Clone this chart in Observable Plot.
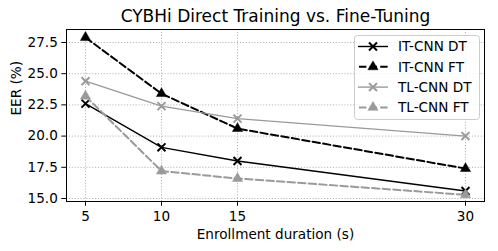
<!DOCTYPE html>
<html><head><meta charset="utf-8">
<script src="https://cdn.jsdelivr.net/npm/d3@7"></script>
<script src="https://cdn.jsdelivr.net/npm/@observablehq/plot@0.6"></script>
<style>html,body{margin:0;padding:0;background:#fff} svg{display:block}</style>
</head><body><div id="chart"></div>
<script>
// ---- data ----
const durations = [5, 10, 15, 30];
const itCnnDt = [22.6, 19.1, 18.0, 15.6];
const itCnnFt = [27.9, 23.4, 20.6, 17.4];
const tlCnnDt = [24.4, 22.4, 21.4, 20.0];
const tlCnnFt = [23.2, 17.2, 16.6, 15.3];
const seriesNames = ["IT-CNN DT", "IT-CNN FT", "TL-CNN DT", "TL-CNN FT"];
const xTicks = [5, 10, 15, 30];
const yTicks = [15, 17.5, 20, 22.5, 25, 27.5];
const titleText = "CYBHi Direct Training vs. Fine-Tuning";
const xLabel = "Enrollment duration (s)";
const yLabel = "EER (%)";

// ---- styles ----
const seriesValues = [itCnnDt, itCnnFt, tlCnnDt, tlCnnFt];
const styles = [
  {color: "#000000", dash: null, width: 1.4, symbol: "times", r: 3.7},
  {color: "#000000", dash: "7.4,3.2", width: 2, symbol: "triangle", r: 3.8},
  {color: "#9a9a9a", dash: null, width: 1.4, symbol: "times", r: 3.7},
  {color: "#9a9a9a", dash: "7.4,3.2", width: 2, symbol: "triangle", r: 3.8}
];

const table = [];
seriesNames.forEach((name, s) => {
  durations.forEach((d, i) => table.push({series: name, duration: d, eer: seriesValues[s][i]}));
});

const W = 498, H = 251;
const mL = 66, mR = 14, mT = 29, mB = 50;
const fs = 13.6;

const marks = [
  Plot.gridX(xTicks, {stroke: "#b0b0b0", strokeOpacity: 1, strokeWidth: 1, strokeDasharray: "1.1,1.8"}),
  Plot.gridY(yTicks, {stroke: "#b0b0b0", strokeOpacity: 1, strokeWidth: 1, strokeDasharray: "1.1,1.8"}),
  Plot.axisX(xTicks, {tickSize: 4.7, tickPadding: 5.5, label: null, fontSize: fs}),
  Plot.axisY(yTicks, {tickSize: 4.7, tickPadding: 4, tickFormat: d3.format(".1f"), label: null, fontSize: fs})
];
seriesNames.forEach((name, s) => {
  const st = styles[s];
  const rows = table.filter(d => d.series === name);
  marks.push(Plot.line(rows, {x: "duration", y: "eer", stroke: st.color, strokeWidth: st.width, strokeDasharray: st.dash}));
  if (st.symbol === "times") {
    marks.push(Plot.dot(rows, {x: "duration", y: "eer", symbol: "times", r: st.r, stroke: st.color, strokeWidth: 2}));
  } else {
    marks.push(Plot.dot(rows, {x: "duration", y: "eer", symbol: "triangle", r: st.r, fill: st.color, stroke: st.color, strokeWidth: 0.5}));
  }
});
marks.push(Plot.frame({stroke: "#000", strokeWidth: 1}));
marks.push(Plot.text([titleText], {frameAnchor: "top", lineAnchor: "middle", dy: -12.5, fontSize: 17}));
marks.push(Plot.text([xLabel], {frameAnchor: "bottom", lineAnchor: "middle", dy: 33, fontSize: fs}));
marks.push(Plot.text([yLabel], {frameAnchor: "left", lineAnchor: "middle", dx: -50, rotate: -90, fontSize: fs}));

const svg = Plot.plot({
  width: W, height: H,
  marginLeft: mL, marginRight: mR, marginTop: mT, marginBottom: mB,
  x: {domain: [3.75, 31.25]},
  y: {domain: [14.76, 28.54]},
  style: {fontFamily: "DejaVu Sans", fontSize: fs + "px", color: "#000", background: "#fff"},
  marks
});

// ---- legend (inside the frame, upper right) ----
const frameRight = W - mR, frameTop = mT;
const lgW = 125, lgH = 84;
const lgX = frameRight - 5 - lgW, lgY = frameTop + 6;
const lg = d3.select(svg).append("g")
  .attr("font-family", "DejaVu Sans").attr("font-size", fs).attr("text-anchor", "start");
lg.append("rect").attr("x", lgX + 0.5).attr("y", lgY + 0.5).attr("width", lgW).attr("height", lgH)
  .attr("rx", 3).attr("fill", "#ffffff").attr("fill-opacity", 0.8)
  .attr("stroke", "#cccccc").attr("stroke-width", 1);
seriesNames.forEach((name, s) => {
  const st = styles[s];
  const cy = lgY + 11.5 + s * 20.3;
  const x0 = lgX + 4, x1 = lgX + 34, xm = (x0 + x1) / 2;
  const ln = lg.append("line").attr("x1", x0).attr("x2", x1).attr("y1", cy).attr("y2", cy)
    .attr("stroke", st.color).attr("stroke-width", st.width);
  if (st.dash) ln.attr("stroke-dasharray", st.dash).attr("stroke-dashoffset", -1);
  const sym = st.symbol === "times" ? d3.symbolTimes : d3.symbolTriangle;
  const p = lg.append("path").attr("d", d3.symbol(sym, Math.PI * st.r * st.r)()).attr("transform", `translate(${xm},${cy})`);
  if (st.symbol === "times") p.attr("fill", "none").attr("stroke", st.color).attr("stroke-width", 2);
  else p.attr("fill", st.color).attr("stroke", st.color).attr("stroke-width", 0.5);
  lg.append("text").attr("x", lgX + 44).attr("y", cy).attr("dy", "0.36em")
    .attr("fill", "#000").attr("text-anchor", "start").text(name);
});

document.getElementById("chart").appendChild(svg);
</script>
</body></html>
